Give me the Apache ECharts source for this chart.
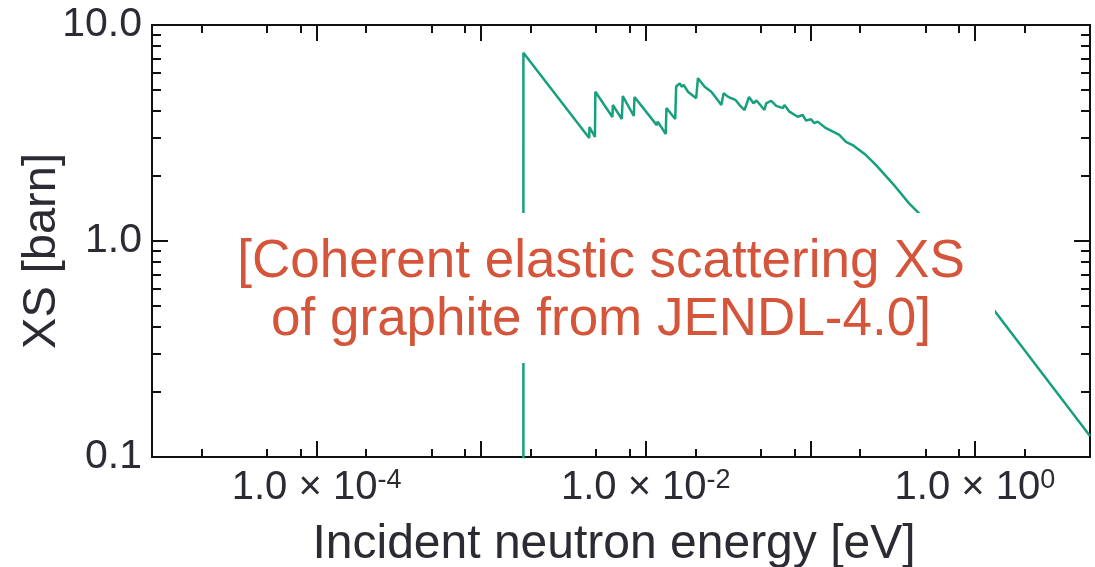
<!DOCTYPE html>
<html>
<head>
<meta charset="utf-8">
<script src="https://cdn.jsdelivr.net/npm/echarts@6/dist/echarts.min.js"></script>
<style>
  html, body { margin: 0; padding: 0; background: #fff; }
  #main { width: 1095px; height: 567px; }
</style>
</head>
<body>
<div id="main"></div>
<script>
// coherent elastic XS of graphite
const energy = [
  1.805e-3, 1.805e-3, 4.53e-3, 4.55e-3, 4.91e-3, 4.94e-3, 6.27e-3, 6.31e-3, 7.15e-3, 7.25e-3,
  8.46e-3, 8.54e-3, 1.166e-2, 1.182e-2, 1.322e-2, 1.335e-2, 1.51e-2, 1.53e-2, 1.607e-2, 1.652e-2,
  1.699e-2, 1.805e-2, 1.849e-2, 2.023e-2, 2.075e-2, 2.279e-2, 2.50e-2, 2.683e-2, 2.877e-2, 2.971e-2,
  3.155e-2, 3.306e-2, 3.511e-2, 3.713e-2, 3.98e-2, 4.24e-2, 4.51e-2, 4.71e-2, 5.26e-2, 5.39e-2,
  5.78e-2, 6.20e-2, 6.79e-2, 6.96e-2, 7.46e-2, 8.37e-2, 8.98e-2, 9.42e-2, 0.101, 0.1057,
  0.1107, 0.1245, 0.1499, 0.1646, 0.1805, 0.2176, 0.250, 0.3154, 0.398, 0.4577,
  1.30, 5.0
];
const xs = [
  0.01, 7.44, 3.00, 3.37, 3.03, 4.91, 3.75, 4.26, 3.67, 4.69,
  3.79, 4.64, 3.44, 3.57, 3.13, 4.13, 3.67, 5.19, 5.37, 5.18,
  5.28, 4.91, 4.98, 4.58, 5.67, 5.18, 4.91, 4.58, 4.26, 4.83,
  4.66, 4.58, 4.50, 4.26, 4.04, 4.64, 4.34, 4.47, 4.04, 4.34,
  4.46, 4.22, 4.12, 4.26, 3.97, 3.76, 3.83, 3.61, 3.66, 3.51,
  3.57, 3.33, 3.10, 2.88, 2.78, 2.50, 2.25, 1.85, 1.494, 1.344,
  0.480, 0.125
];

const xMajorTicks = [1e-4, 1e-3, 1e-2, 1e-1, 1];
const xMinorTicks = [2e-5, 5e-5, 8e-5, 2e-4, 5e-4, 8e-4, 2e-3, 5e-3, 8e-3,
  2e-2, 5e-2, 8e-2, 0.2, 0.5, 0.8, 2];
const xLabelValues = [1e-4, 1e-2, 1];
const yMajorTicks = [1];
const yMinorTicks = [0.2, 0.3, 0.4, 0.5, 0.6, 0.7, 0.8, 0.9, 2, 3, 4, 5, 6, 7, 8, 9];
const yLabelValues = [0.1, 1, 10];

const FONT = '"Liberation Sans", Arial, sans-serif';
const TXT = '#2b2b33';

// one tick-only axis (used several times to get major/minor ticks on all four sides)
const tickAxis = (type, pos, ticks, len) => ({
  type: 'log', logBase: 10, position: pos,
  min: type === 'x' ? 1e-5 : 0.1,
  max: type === 'x' ? 5 : 10,
  axisLine: { show: false },
  axisTick: { show: true, inside: true, length: len, customValues: ticks,
    lineStyle: { color: '#111', width: 2 } },
  axisLabel: { show: false },
  splitLine: { show: false },
  minorTick: { show: false }
})

const xMain = tickAxis('x', 'bottom', xMajorTicks, 16)
xMain.axisLabel = {
  show: true, customValues: xLabelValues, margin: 10,
  color: TXT, fontFamily: FONT, fontSize: 40,
  formatter: v => '1.0 × 10{sup|' + Math.round(Math.log10(v)) + '}',
  rich: { sup: { fontSize: 27, fontFamily: FONT, color: TXT, verticalAlign: 'top', padding: [0, 0, 14, 0] } }
}
xMain.name = 'Incident neutron energy [eV]'
xMain.nameLocation = 'middle'
xMain.nameGap = 64
xMain.nameTextStyle = { color: TXT, fontFamily: FONT, fontSize: 48, padding: [0, 14, 0, 0] }

const yMain = tickAxis('y', 'left', yMajorTicks, 16)
yMain.axisLabel = {
  show: true, customValues: yLabelValues, margin: 10,
  color: TXT, fontFamily: FONT, fontSize: 41,
  formatter: v => v.toFixed(1)
}
yMain.name = 'XS [barn]'
yMain.nameLocation = 'middle'
yMain.nameGap = 86
yMain.nameMoveOverlap = false
yMain.nameTextStyle = { color: TXT, fontFamily: FONT, fontSize: 47, padding: [0, 20, 0, 0] }

const option = {
  animation: false,
  backgroundColor: '#fff',
  grid: { left: 152, right: 5, top: 25, bottom: 110, show: true,
    containLabel: false, outerBoundsMode: 'none',
    borderColor: '#111', borderWidth: 2, backgroundColor: 'transparent' },
  xAxis: [
    xMain,
    tickAxis('x', 'bottom', xMinorTicks, 8),
    tickAxis('x', 'top', xMajorTicks, 16),
    tickAxis('x', 'top', xMinorTicks, 8)
  ],
  yAxis: [
    yMain,
    tickAxis('y', 'left', yMinorTicks, 9),
    tickAxis('y', 'right', yMajorTicks, 16),
    tickAxis('y', 'right', yMinorTicks, 9)
  ],
  series: [{
    type: 'line',
    data: energy.map((e, i) => [e, xs[i]]),
    showSymbol: false,
    clip: true,
    lineStyle: { color: '#17a07e', width: 2.5 },
    z: 3
  }],
  graphic: [
    { type: 'rect', z: 100, shape: { x: 207, y: 213, width: 788, height: 150 },
      style: { fill: '#fff' } },
    { type: 'text', z: 101, x: 601, y: 291,
      style: { text: '[Coherent elastic scattering XS\nof graphite from JENDL-4.0]',
        fill: '#d4553a', font: '53px ' + FONT, align: 'center', verticalAlign: 'middle',
        lineHeight: 58 } }
  ]
}

const chart = echarts.init(document.getElementById('main'))
chart.setOption(option)
</script>
</body>
</html>
